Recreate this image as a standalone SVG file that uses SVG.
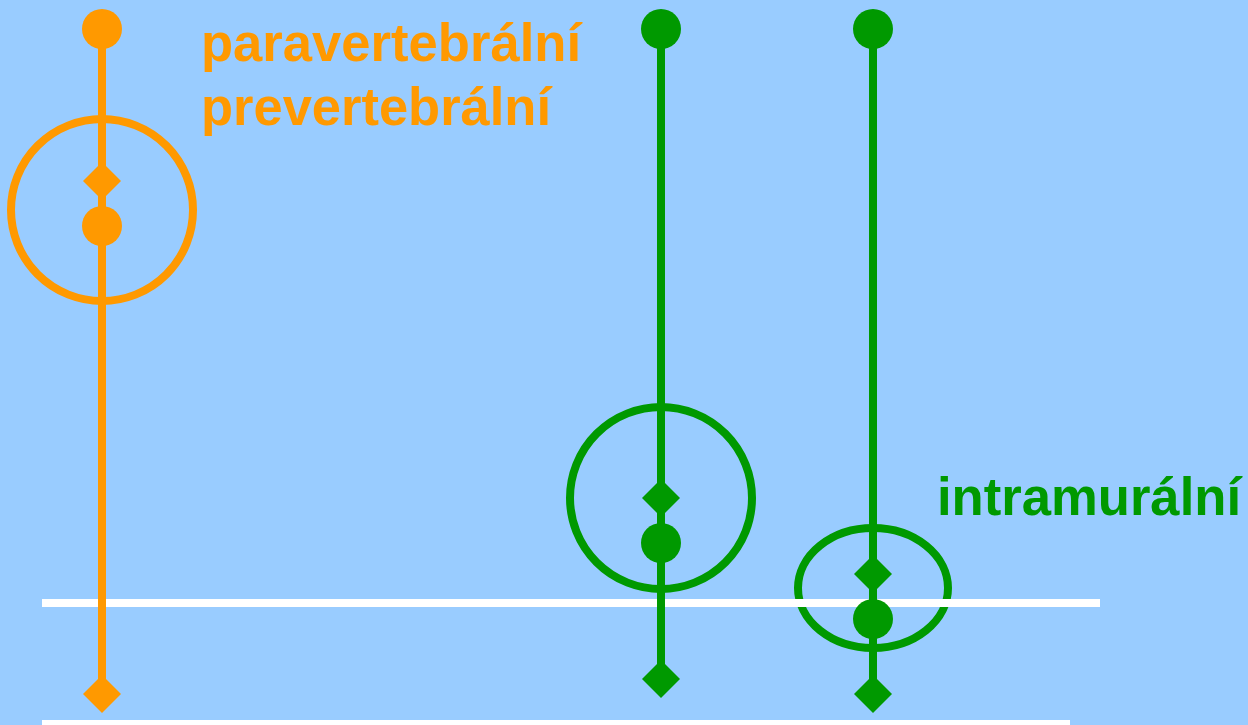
<svg xmlns="http://www.w3.org/2000/svg" width="1248" height="725" viewBox="0 0 1248 725">
<style>
.o{fill:#FF9900}
.g{fill:#009900}
.ol{stroke:#FF9900;stroke-width:8;fill:none}
.gl{stroke:#009900;stroke-width:8;fill:none}
.wl{stroke:#FFFFFF;stroke-width:8}
.t{font-family:"Liberation Sans",Arial,sans-serif;font-weight:bold;font-size:54px}
</style>
<defs>
<path id="dia" d="M0,-19 L19,0 L0,19 L-19,0 Z"/>
</defs>
<rect width="1248" height="725" fill="#99CCFF"/>
<g id="ganglia">
<circle id="ganglion-paravertebral" class="ol" cx="102" cy="210" r="91"/>
<circle id="ganglion-prevertebral" class="gl" cx="661" cy="498" r="91"/>
<ellipse id="ganglion-intramural" class="gl" cx="873" cy="588" rx="75" ry="60"/>
</g>
<g id="surfaces">
<line class="wl" x1="42" y1="603" x2="1100" y2="603"/>
<line class="wl" x1="42" y1="724" x2="1070" y2="724"/>
</g>
<g id="connectors">
<line class="ol" x1="102" y1="29" x2="102" y2="694"/>
<line class="gl" x1="661" y1="29" x2="661" y2="679"/>
<line class="gl" x1="873" y1="29" x2="873" y2="694"/>
</g>
<g id="paravertebral">
<circle class="o" cx="102" cy="29" r="20"/>
<use href="#dia" class="o" x="102" y="181"/>
<circle class="o" cx="102" cy="226" r="20"/>
<use href="#dia" class="o" x="102" y="694"/>
</g>
<g id="prevertebral">
<circle class="g" cx="661" cy="29" r="20"/>
<use href="#dia" class="g" x="661" y="498"/>
<circle class="g" cx="661" cy="543" r="20"/>
<use href="#dia" class="g" x="661" y="679"/>
</g>
<g id="intramural">
<circle class="g" cx="873" cy="29" r="20"/>
<use href="#dia" class="g" x="873" y="574"/>
<circle class="g" cx="873" cy="619" r="20"/>
<use href="#dia" class="g" x="873" y="694"/>
</g>
<g id="labels">
<text class="t o" x="201" y="61" textLength="380" lengthAdjust="spacingAndGlyphs">paravertebrální</text>
<text class="t o" x="201" y="125" textLength="350" lengthAdjust="spacingAndGlyphs">prevertebrální</text>
<text class="t g" x="937" y="515" textLength="304" lengthAdjust="spacingAndGlyphs">intramurální</text>
</g>
</svg>
